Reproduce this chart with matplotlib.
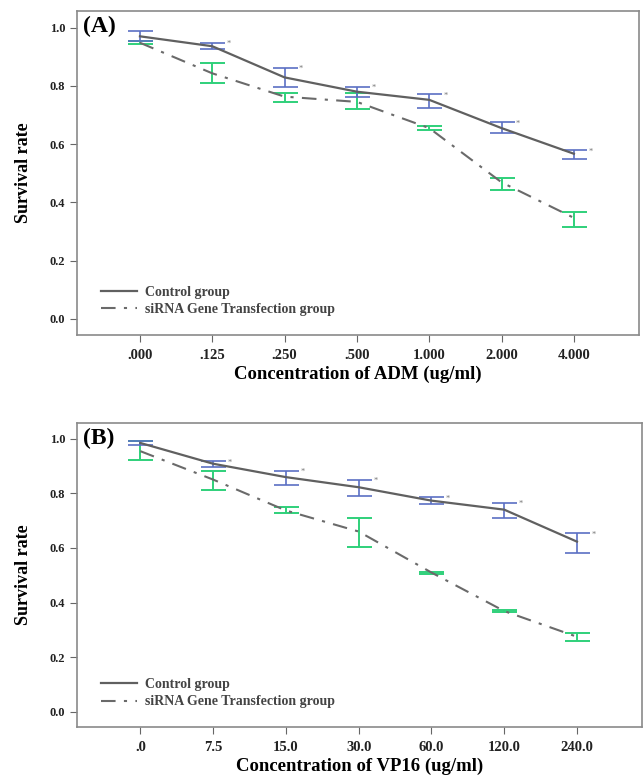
import matplotlib
matplotlib.use('Agg')
import matplotlib.pyplot as plt
import numpy as np

plt.rcParams['font.family'] = ['Liberation Serif', 'DejaVu Serif']

# 面板A：ADM浓度
adm_labels = ['.000', '.125', '.250', '.500', '1.000', '2.000', '4.000']
adm_ctrl = [0.970, 0.936, 0.829, 0.780, 0.752, 0.655, 0.567]
adm_ctrl_lo = [0.955, 0.925, 0.795, 0.761, 0.723, 0.638, 0.550]
adm_ctrl_hi = [0.988, 0.948, 0.863, 0.797, 0.771, 0.675, 0.579]
adm_si = [0.948, 0.843, 0.763, 0.745, 0.655, 0.469, 0.347]
adm_si_lo = [0.945, 0.811, 0.746, 0.721, 0.647, 0.442, 0.315]
adm_si_hi = [0.955, 0.880, 0.777, 0.774, 0.663, 0.485, 0.368]

# 面板B：VP16浓度
vp_labels = ['.0', '7.5', '15.0', '30.0', '60.0', '120.0', '240.0']
vp_ctrl = [0.984, 0.908, 0.859, 0.822, 0.773, 0.740, 0.623]
vp_ctrl_lo = [0.978, 0.896, 0.832, 0.790, 0.761, 0.709, 0.581]
vp_ctrl_hi = [0.990, 0.917, 0.883, 0.850, 0.785, 0.765, 0.654]
vp_si = [0.954, 0.850, 0.737, 0.660, 0.510, 0.369, 0.275]
vp_si_lo = [0.923, 0.811, 0.727, 0.605, 0.505, 0.364, 0.260]
vp_si_hi = [0.990, 0.881, 0.748, 0.709, 0.513, 0.372, 0.290]

yticks = [0.0, 0.2, 0.4, 0.6, 0.8, 1.0]
legend_names = ['Control group', 'siRNA Gene Transfection group']

blue = '#5b6fc4'
green = '#2fd07a'
frame_col = '#8a8a8a'


def draw_panel(ax, tag, labels, ctrl, clo, chi, si, slo, shi, xlabel):
    x = np.arange(len(labels))
    ctrl = np.array(ctrl)
    si = np.array(si)
    # 误差棒
    ax.errorbar(x, si, yerr=[si - np.array(slo), np.array(shi) - si], fmt='none',
                ecolor=green, elinewidth=1.4, capsize=9, capthick=1.4, zorder=2)
    ax.errorbar(x, ctrl, yerr=[ctrl - np.array(clo), np.array(chi) - ctrl], fmt='none',
                ecolor=blue, elinewidth=1.2, capsize=9, capthick=1.2, zorder=2)
    # 折线
    l1, = ax.plot(x, ctrl, '-', color='#606060', lw=1.6, zorder=3)
    l2, = ax.plot(x, si, color='#6a6a6a', lw=1.5, dashes=(7, 4, 1.5, 4), zorder=3)
    # 星号
    for i in range(1, len(x)):
        ax.text(x[i] + 0.2, chi[i] - 0.005, '*', fontsize=6, color='#777777',
                ha='left', va='center')
    ax.set_xlim(-0.87, 6.9)
    ax.set_ylim(-0.055, 1.057)
    ax.set_xticks(x)
    ax.set_xticklabels(labels, fontsize=10.5, fontweight='bold', color='#222222')
    ax.set_yticks(yticks)
    ax.set_yticklabels(['%.1f' % v for v in yticks], fontsize=9, fontweight='bold',
                       color='#222222')
    ax.tick_params(axis='both', direction='out', length=5, width=0.8, color='#666666')
    ax.tick_params(axis='x', pad=5)
    for sp in ax.spines.values():
        sp.set_color(frame_col)
        sp.set_linewidth(1.2)
    ax.set_xlabel(xlabel, fontsize=13.5, fontweight='bold', labelpad=3)
    ax.set_ylabel('Survival rate', fontsize=13, fontweight='bold', labelpad=13)
    ax.text(0.01, 0.985, tag, transform=ax.transAxes, fontsize=17, fontweight='bold',
            ha='left', va='top')
    leg = ax.legend([l1, l2], legend_names, loc='lower left', frameon=False,
                    bbox_to_anchor=(0.02, 0.02), handlelength=2.6, handletextpad=0.6,
                    labelspacing=0.3, prop={'size': 10, 'weight': 'bold'})
    for t in leg.get_texts():
        t.set_color('#444444')


fig = plt.figure(figsize=(6.44, 7.78), dpi=100)

ax_a = fig.add_axes([0.1196, 0.5694, 0.8726, 0.4165])
draw_panel(ax_a, '(A)', adm_labels, adm_ctrl, adm_ctrl_lo, adm_ctrl_hi,
           adm_si, adm_si_lo, adm_si_hi, 'Concentration of ADM (ug/ml)')

ax_b = fig.add_axes([0.1196, 0.0656, 0.8780, 0.3907])
draw_panel(ax_b, '(B)', vp_labels, vp_ctrl, vp_ctrl_lo, vp_ctrl_hi,
           vp_si, vp_si_lo, vp_si_hi, 'Concentration of VP16 (ug/ml)')

fig.savefig('out.png', dpi=100)
